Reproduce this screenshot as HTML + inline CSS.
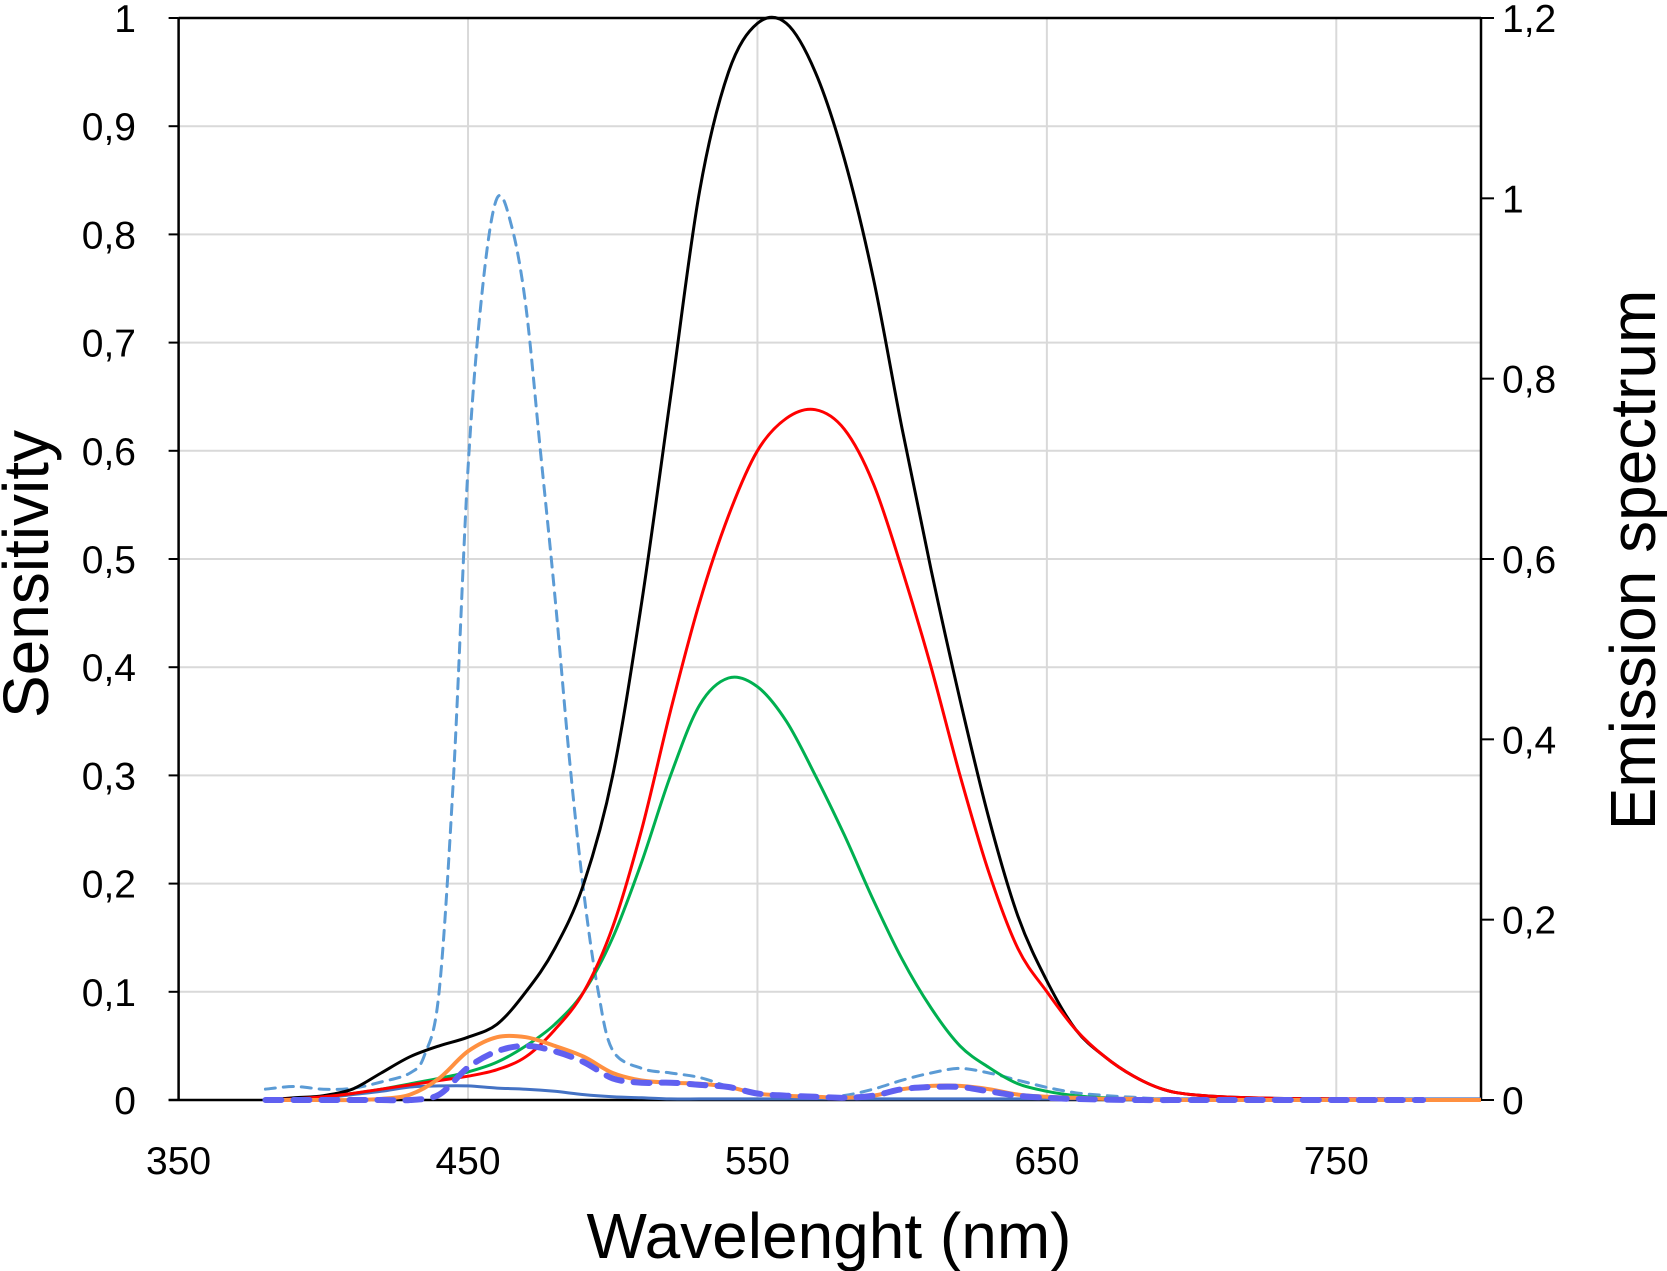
<!DOCTYPE html>
<html><head><meta charset="utf-8"><style>
html,body{margin:0;padding:0;background:#fff;}
svg{display:block;font-family:"Liberation Sans",sans-serif;}
</style></head><body>
<svg id="chart" width="1667" height="1271" viewBox="0 0 1667 1271">
<g id="grid"></g>
<g id="axes"></g>
<g id="series"></g>
<text x="829" y="1258" font-size="64" text-anchor="middle">Wavelenght (nm)</text>
<text transform="translate(48,574) rotate(-90)" font-size="64" text-anchor="middle">Sensitivity</text>
<text transform="translate(1655,560) rotate(-90)" font-size="64" text-anchor="middle">Emission spectrum</text>
</svg>
<script>
const wl=[380,390,400,410,420,430,440,450,460,470,480,490,500,510,520,530,540,550,560,570,580,590,600,610,620,630,640,650,660,670,680,690,700,720,750,800];
const black=[0,0.002,0.004,0.01,0.025,0.04,0.05,0.058,0.07,0.1,0.14,0.2,0.3,0.46,0.65,0.84,0.95,0.995,0.995,0.95,0.87,0.76,0.62,0.49,0.37,0.26,0.17,0.11,0.065,0.04,0.022,0.01,0.005,0.002,0.001,0];
const red=[0,0.001,0.003,0.006,0.01,0.014,0.018,0.022,0.028,0.04,0.065,0.1,0.16,0.25,0.36,0.46,0.54,0.6,0.63,0.638,0.62,0.57,0.49,0.4,0.3,0.21,0.14,0.1,0.065,0.04,0.022,0.01,0.005,0.002,0.001,0];
const green=[0,0.001,0.003,0.006,0.01,0.015,0.02,0.026,0.035,0.05,0.07,0.1,0.15,0.22,0.3,0.365,0.39,0.382,0.35,0.3,0.245,0.185,0.13,0.085,0.05,0.03,0.015,0.008,0.004,0.002,0.001,0,0,0,0,0];
const blue=[0,0.001,0.002,0.005,0.008,0.012,0.013,0.013,0.011,0.01,0.008,0.005,0.003,0.002,0.001,0.001,0.001,0.001,0.001,0.001,0.001,0.001,0.001,0.001,0.001,0.001,0.001,0.001,0.001,0.001,0.001,0.001,0.001,0.001,0.001,0.001];
const orange=[0,0,0,0,0.001,0.005,0.02,0.045,0.058,0.058,0.05,0.04,0.025,0.018,0.016,0.015,0.012,0.006,0.004,0.003,0.002,0.004,0.01,0.013,0.013,0.01,0.005,0.003,0.002,0.001,0.001,0,0,0,0,0];
const wlP=[380,390,400,410,420,430,440,450,460,470,480,490,500,510,520,530,540,550,560,570,580,590,600,610,620,630,640,650,660,680,700,720,750,780];
const purple=[0,0,0,0,0,0,0.005,0.03,0.045,0.05,0.045,0.035,0.02,0.016,0.016,0.014,0.012,0.006,0.004,0.003,0.002,0.004,0.01,0.012,0.012,0.008,0.004,0.002,0.001,0,0,0,0,0];
const wlE=[380,390,400,410,420,430,435,440,445,450,455,460,465,470,475,480,485,490,495,500,510,520,530,540,550,560,570,580,590,600,610,620,630,640,650,660,670,680,700,800];
const emission=[0.012,0.015,0.012,0.013,0.02,0.03,0.05,0.12,0.36,0.7,0.9,1.0,0.97,0.88,0.72,0.56,0.38,0.23,0.12,0.055,0.035,0.03,0.025,0.015,0.007,0.004,0.003,0.005,0.012,0.022,0.03,0.035,0.03,0.022,0.014,0.008,0.005,0.003,0.001,0];
const xTicks=[350,450,550,650,750];
const yTicks=[0,0.1,0.2,0.3,0.4,0.5,0.6,0.7,0.8,0.9,1];
const y2Ticks=[0,0.2,0.4,0.6,0.8,1,1.2];

const L=178.6,R=1481,T=18,B=1100;
const NS='http://www.w3.org/2000/svg';
const xs=w=>L+(w-350)/450*(R-L);
const ys=v=>B-v*(B-T);
const ys2=v=>B-v/1.2*(B-T);
function mk(tag,attrs,parent){const e=document.createElementNS(NS,tag);for(const k in attrs)e.setAttribute(k,attrs[k]);parent.appendChild(e);return e;}
const grid=document.getElementById('grid'),axes=document.getElementById('axes'),ser=document.getElementById('series');
const fmt=v=>String(+v.toFixed(1)).replace('.',',');
yTicks.forEach(v=>{
  if(v>0&&v<1){const g=mk('line',{x1:L,x2:R,y1:ys(v),y2:ys(v),stroke:'#d9d9d9','stroke-width':2},grid);
  
  }
  const t=mk('line',{x1:L-10,x2:L,y1:ys(v),y2:ys(v),stroke:'#000','stroke-width':2},axes);
  
  
  const lb=mk('text',{x:136,y:ys(v)+14,'font-size':39,'text-anchor':'end'},axes);lb.textContent=fmt(v);
  
  
});
y2Ticks.forEach(v=>{
  const t=mk('line',{x1:R,x2:R+13,y1:ys2(v),y2:ys2(v),stroke:'#000','stroke-width':2},axes);
  
  
  const lb=mk('text',{x:1502,y:ys2(v)+14,'font-size':39},axes);lb.textContent=fmt(v);
  
  
});
xTicks.forEach(w=>{
  if(w>350){const g=mk('line',{x1:xs(w),x2:xs(w),y1:T,y2:B,stroke:'#d9d9d9','stroke-width':2},grid);
  
  }
  const lb=mk('text',{x:xs(w),y:1174,'font-size':39,'text-anchor':'middle'},axes);lb.textContent=w;
  
  
});
const ax=mk('path',{d:`M${L-10},${B}H${R} M${L},${T}V${B} M${L},${T}H${R} M${R},${T}V${B}`,stroke:'#000','stroke-width':2.5,fill:'none'},axes);


function path(xsArr,vals,sy){
  const p=xsArr.map((w,i)=>[xs(w),sy(vals[i])]);
  let d=`M${p[0][0]},${p[0][1]}`;
  for(let i=0;i<p.length-1;i++){
    const p0=p[Math.max(0,i-1)],p1=p[i],p2=p[i+1],p3=p[Math.min(p.length-1,i+2)];
    const c1=[p1[0]+(p2[0]-p0[0])/6,p1[1]+(p2[1]-p0[1])/6],c2=[p2[0]-(p3[0]-p1[0])/6,p2[1]-(p3[1]-p1[1])/6];
    d+=`C${c1[0].toFixed(1)},${c1[1].toFixed(1)} ${c2[0].toFixed(1)},${c2[1].toFixed(1)} ${p2[0].toFixed(1)},${p2[1].toFixed(1)}`;
  }
  return d;
}
const defs=[
 ['emission-line',wlE,emission,ys2,'#5b9bd5',3,'10,8'],
 ['blue-line',wl,blue,ys,'#4472c4',3,null],
 ['green-line',wl,green,ys,'#00b050',3,null],
 ['black-line',wl,black,ys,'#000',3,null],
 ['red-line',wl,red,ys,'#ff0000',3,null],
 ['orange-line',wl,orange,ys,'#ff9040',4,null],
 ['purple-dashed-line',wlP,purple,ys,'#6060f0',6,'16,12']
];
defs.forEach(([n,x,v,sy,c,w,da])=>{
  const e=mk('path',{d:path(x,v,sy),stroke:c,'stroke-width':w,fill:'none','stroke-linejoin':'round'},ser);
  if(da){e.setAttribute('stroke-dasharray',da);e.setAttribute('stroke-linecap','round');}
  
  
});
</script>
</body></html>
